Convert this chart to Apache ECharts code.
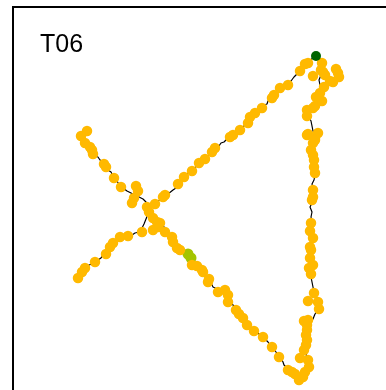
<!DOCTYPE html>
<html>
<head>
<meta charset="utf-8">
<script src="https://cdn.jsdelivr.net/npm/echarts@6/dist/echarts.min.js"></script>
<style>
  html, body { margin: 0; padding: 0; background: #fff; }
  #chart { width: 386px; height: 390px; }
</style>
</head>
<body>
<div id="chart"></div>
<script>
// Track T06 in local grid units (x east, y south)
var trackId = 'T06';

// Continuous track line
var trackLine = [
  [81,136],[84,139],[86,143],[90,146],[93,151],[95,156],[98,157],[100,160],[103,162],[105,166],
  [108,170],[111,172],[113,176],[117,181],[120,186],[123,188],[125,188],[127,191],[131,193],[135,195],
  [139,197],[143,199],[146,202],[148,205],[150,209],[152,213],[155,217],[158,221],[162,225],[166,229],
  [169,233],[172,237],[174,242],[177,246],[180,249],[184,252],[188,255],[191,259],[194,263],[198,266],
  [202,269],[205,273],[206,277],[209,279],[211,283],[213,287],[217,289],[221,292],[225,295],[228,300],
  [231,303],[234,306],[237,310],[240,314],[243,318],[246,322],[249,326],[252,329],[255,332],[258,333],
  [261,336],[265,339],[268,342],[270,345],[273,348],[276,352],[278,355],[281,358],[283,362],[284,365],
  [286,366],[288,369],[291,372],[295,375],[299,378],[302,376],[305,372],[307,368],[308,363],[307,358],
  [306,354],[305,350],[305,346],[306,341],[307,337],[306,332],[307,328],[308,324],[308,320],[311,322],
  [313,323],[313,319],[315,314],[318,310],[319,305],[317,300],[315,296],[314,292],[313,287],[312,282],
  [311,277],[310,273],[310,269],[312,266],[310,262],[310,258],[311,253],[311,249],[312,245],[313,240],
  [311,235],[310,231],[311,226],[312,222],[311,217],[312,212],[310,207],[312,203],[313,199],[313,194],
  [313,189],[312,184],[314,180],[315,175],[315,170],[314,165],[314,160],[313,155],[312,150],[313,145],
  [314,140],[315,136],[313,131],[312,126],[311,121],[309,117],[309,112],[312,107],[315,103],[317,99],
  [318,95],[320,90],[320,85],[319,80],[321,75],[322,70],[323,65],[321,60],[318,57],[316,56],
  [313,58],[309,61],[305,64],[301,68],[298,73],[294,77],[291,81],[288,84],[285,85],[283,87],
  [280,89],[277,92],[274,96],[271,99],[268,101],[267,104],[264,105],[261,108],[258,110],[255,113],
  [252,116],[249,119],[248,122],[245,125],[243,126],[241,129],[238,131],[234,134],[231,137],[227,139],
  [224,142],[221,143],[219,146],[215,148],[212,151],[209,155],[206,157],[203,160],[200,162],[197,166],
  [193,169],[190,172],[187,174],[184,177],[181,181],[179,184],[176,188],[173,190],[171,192],[168,194],
  [165,196],[161,199],[157,202],[154,205],[150,209],[148,214],[146,219],[144,224],[142,228],[139,232],
  [135,233],[132,235],[128,236],[124,237],[120,238],[117,240],[114,243],[111,246],[109,250],[106,253],
  [103,255],[101,258],[98,260],[95,262],[92,264],[89,265],[86,268],[83,271],[80,275],[78,278]
];

// Position fixes
var fixes = [
  [87,131],[81,136],[85,143],[90,147],[92,150],[93,154],[104,164],[106,167],[114,178],[121,187],
  [136,186],[138,191],[134,198],[132,203],
  [147,207],[149,212],[155,204],[153,218],[157,222],[160,223],[158,227],[153,230],[165,232],[172,237],
  [173,242],[177,248],[180,250],
  [163,197],[165,195],[178,184],[184,177],[192,171],[199,163],[205,159],[212,152],[215,148],[230,137],
  [233,135],[240,130],[248,123],[250,117],[255,113],[262,108],[272,98],[274,95],[280,88],[288,85],
  [300,71],[305,64],[308,63],
  [142,232],[128,236],[120,237],[113,243],[110,247],[106,254],[95,262],[85,268],[82,272],[78,278],
  [192,265],[197,266],[202,270],[203,272],[209,279],[208,282],[218,292],[225,290],[228,295],[228,302],
  [236,310],[239,314],[243,318],[247,325],[254,331],[263,337],[272,347],[279,357],[288,370],[292,372],
  [295,374],[299,380],[303,377],[305,372],[309,367],[300,358],[308,360],
  [304,350],[306,345],[307,340],[306,335],[307,330],[307,325],[308,320],[304,321],[319,309],[318,302],
  [314,293],[308,301],[311,274],[309,268],[313,265],[310,258],[311,250],[310,247],[313,238],[310,231],
  [311,223],[312,200],[313,197],[313,190],[315,173],[314,167],[314,160],[313,155],[311,150],[313,143],
  [315,138],[318,133],[308,134],[315,140],[307,135],
  [307,116],[307,110],[313,108],[315,106],[322,101],[316,97],[320,93],[324,87],[333,82],[330,81],
  [339,77],[338,73],[336,69],[325,75],[313,76],[323,72],[322,63],[321,70]
];

// Highlighted points
var startFix = [[188,254],[191,258]];
var endFix = [[316,56]];

var chart = echarts.init(document.getElementById('chart'), null, { renderer: 'canvas' });

chart.setOption({
  animation: false,
  backgroundColor: '#ffffff',
  grid: {
    left: 13, top: 7, width: 420, height: 420,
    outerBoundsMode: 'none', containLabel: false,
    show: true, borderColor: '#000000', borderWidth: 2, backgroundColor: 'transparent'
  },
  xAxis: { type: 'value', min: 13, max: 433, show: false },
  yAxis: { type: 'value', min: 7, max: 427, inverse: true, show: false },
  graphic: [{
    type: 'text', left: 40, top: 33,
    style: { text: trackId, font: '25px "Liberation Sans", Arial, sans-serif', fill: '#000000' }
  }],
  series: [
    {
      type: 'line', data: trackLine, showSymbol: false, symbol: 'none', z: 1,
      lineStyle: { color: '#000000', width: 1.2 }
    },
    {
      type: 'scatter', data: startFix, symbolSize: 11, z: 2,
      itemStyle: { color: '#A4C400', opacity: 1 }
    },
    {
      type: 'scatter', data: fixes, symbolSize: 10.5, z: 3,
      itemStyle: { color: '#FFB900', opacity: 1 }
    },
    {
      type: 'scatter', data: endFix, symbolSize: 10, z: 4,
      itemStyle: { color: '#006400', opacity: 1 }
    }
  ]
});
</script>
</body>
</html>
